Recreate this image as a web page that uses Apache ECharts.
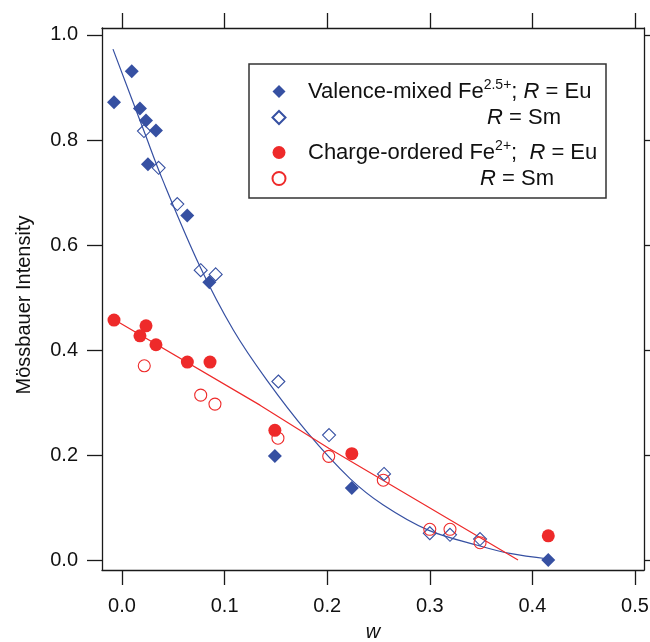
<!DOCTYPE html>
<html>
<head>
<meta charset="utf-8">
<script src="https://cdn.jsdelivr.net/npm/echarts@6/dist/echarts.min.js"></script>
<style>
html,body{margin:0;padding:0;background:#fff;}
#chart{width:650px;height:642px;}
</style>
</head>
<body>
<div id="chart"></div>
<script>
// ---- data ----
const xTicks = [0.0, 0.1, 0.2, 0.3, 0.4, 0.5];
const yTicks = [0.0, 0.2, 0.4, 0.6, 0.8, 1.0];

// Valence-mixed Fe2.5+, R = Eu (filled blue diamonds)
const valEuW = [-0.0078, 0.0095, 0.0175, 0.0234, 0.0331, 0.0253, 0.0636, 0.0851, 0.149, 0.224, 0.4155];
const valEuI = [0.872, 0.931, 0.860, 0.837, 0.818, 0.754, 0.656, 0.529, 0.198, 0.137, 0.0];

// Valence-mixed, R = Sm (open blue diamonds)
const valSmW = [0.0214, 0.0357, 0.0539, 0.0767, 0.0913, 0.1524, 0.2018, 0.2554, 0.300, 0.3197, 0.349];
const valSmI = [0.817, 0.747, 0.678, 0.552, 0.544, 0.340, 0.238, 0.164, 0.051, 0.048, 0.040];

// Charge-ordered Fe2+, R = Eu (filled red circles)
const coEuW = [-0.0078, 0.0234, 0.0175, 0.0331, 0.0637, 0.0858, 0.149, 0.224, 0.4155];
const coEuI = [0.457, 0.446, 0.427, 0.410, 0.377, 0.377, 0.247, 0.2025, 0.046];

// Charge-ordered, R = Sm (open red circles)
const coSmW = [0.0217, 0.0767, 0.0906, 0.152, 0.2015, 0.2547, 0.300, 0.3197, 0.349];
const coSmI = [0.370, 0.314, 0.297, 0.232, 0.1975, 0.152, 0.0585, 0.0585, 0.033];

// guide curves
const valFitW = [-0.0088, 0.0214, 0.0396, 0.076, 0.1085, 0.141, 0.180, 0.222, 0.2547, 0.2985, 0.349, 0.378, 0.4155];
const valFitI = [0.973, 0.817, 0.724, 0.559, 0.438, 0.343, 0.2445, 0.1556, 0.1048, 0.057, 0.0267, 0.0125, 0.002];
const coFitW = [-0.0078, 0.1345, 0.2015, 0.386];
const coFitI = [0.458, 0.295, 0.213, 0.0];

// ---- chart ----
const FONT = '"Liberation Sans", Arial, Helvetica, sans-serif';
const BLUE = '#3650A2';
const RED = '#EE2A2A';
const AX = '#1a1a1a';
const LFS = 22;
const zip = (a, b) => a.map((v, i) => [v, b[i]]);

const names = {
  valEu: '{g| }Valence-mixed Fe{sup|2.5+}; {i|R} = Eu',
  valSm: '{sp| }{i|R} = Sm',
  coEu: '{g| }Charge-ordered Fe{sup|2+};  {i|R} = Eu',
  coSm: '{sp2| }{i|R} = Sm'
};

const rich = {
  sup: {fontSize: 14, lineHeight: 14, verticalAlign: 'top', fontFamily: FONT, color: '#111'},
  i: {fontStyle: 'italic', fontSize: LFS, lineHeight: 26, fontFamily: FONT, color: '#111'},
  g: {width: 17.5, fontSize: LFS, lineHeight: 26, fontFamily: FONT},
  sp: {width: 196.5, fontSize: LFS, lineHeight: 26, fontFamily: FONT},
  sp2: {width: 189.5, fontSize: LFS, lineHeight: 26, fontFamily: FONT}
};

function legendCfg(top, data) {
  return {
    orient: 'vertical', left: 271.5, top: top, padding: 0, itemGap: 0,
    itemWidth: 13, itemHeight: 13, selectedMode: false, data: data,
    formatter: n => names[n],
    textStyle: {fontSize: LFS, lineHeight: 26, color: '#111', fontFamily: FONT, rich: rich}
  };
}

function xAx(pos, labels) {
  return {
    type: 'value', position: pos, min: -0.0195, max: 0.5088,
    axisLine: {show: true, onZero: false, lineStyle: {color: AX, width: 1.3}},
    axisTick: {show: true, inside: false, length: 15, customValues: xTicks, lineStyle: {color: AX, width: 1.3}},
    axisLabel: {show: labels, customValues: xTicks, formatter: v => v.toFixed(1), margin: 26,
      fontSize: 20, color: '#111', fontFamily: FONT},
    splitLine: {show: false}
  };
}
function yAx(pos, labels) {
  return {
    type: 'value', position: pos, min: -0.019, max: 1.0133,
    axisLine: {show: true, onZero: false, lineStyle: {color: AX, width: 1.3}},
    axisTick: {show: true, inside: false, length: 15, customValues: yTicks, lineStyle: {color: AX, width: 1.3}},
    axisLabel: {show: labels, customValues: yTicks, formatter: v => v.toFixed(1), margin: 24,
      fontSize: 20, color: '#111', fontFamily: FONT},
    splitLine: {show: false}
  };
}

const xBottom = xAx('bottom', true);
xBottom.name = 'w';
xBottom.nameLocation = 'middle';
xBottom.nameGap = 52;
xBottom.nameTextStyle = {fontStyle: 'italic', fontSize: 20, color: '#111', fontFamily: FONT};
const yLeft = yAx('left', true);
yLeft.name = 'Mössbauer Intensity';
yLeft.nameLocation = 'middle';
yLeft.nameGap = 68;
yLeft.nameTextStyle = {fontSize: 20, color: '#111', fontFamily: FONT, padding: [0, 12, 0, 0]};

const option = {
  animation: false,
  backgroundColor: '#fff',
  grid: {left: 102, right: 6, top: 28, bottom: 72, containLabel: false, outerBoundsMode: 'none'},
  xAxis: [xBottom, xAx('top', false)],
  yAxis: [yLeft, yAx('right', false)],
  legend: [legendCfg(78.5, ['valEu', 'valSm']), legendCfg(139.5, ['coEu', 'coSm'])],
  graphic: [{
    type: 'rect', z: 100,
    shape: {x: 249, y: 64, width: 357, height: 134},
    style: {fill: 'none', stroke: '#333', lineWidth: 1.5}
  }],
  series: [
    {name: 'valFit', type: 'line', data: zip(valFitW, valFitI), symbol: 'none', smooth: 0.35,
      lineStyle: {color: BLUE, width: 1.2}, z: 1, silent: true},
    {name: 'coFit', type: 'line', data: zip(coFitW, coFitI), symbol: 'none',
      lineStyle: {color: RED, width: 1.2}, z: 1, silent: true},
    {name: 'valEu', type: 'scatter', data: zip(valEuW, valEuI), symbol: 'diamond', symbolSize: 14,
      itemStyle: {color: BLUE, opacity: 1}, z: 3},
    {name: 'valSm', type: 'scatter', data: zip(valSmW, valSmI), symbol: 'diamond', symbolSize: 13,
      itemStyle: {color: 'rgba(255,255,255,0)', borderColor: BLUE, borderWidth: 1.1, opacity: 1}, z: 4},
    {name: 'coEu', type: 'scatter', data: zip(coEuW, coEuI), symbol: 'circle', symbolSize: 13,
      itemStyle: {color: RED, opacity: 1}, z: 3},
    {name: 'coSm', type: 'scatter', data: zip(coSmW, coSmI), symbol: 'circle', symbolSize: 12,
      itemStyle: {color: 'rgba(255,255,255,0)', borderColor: RED, borderWidth: 1.1, opacity: 1}, z: 4}
  ]
};

const chart = echarts.init(document.getElementById('chart'), null, {renderer: 'canvas'});
chart.setOption(option);
</script>
</body>
</html>
